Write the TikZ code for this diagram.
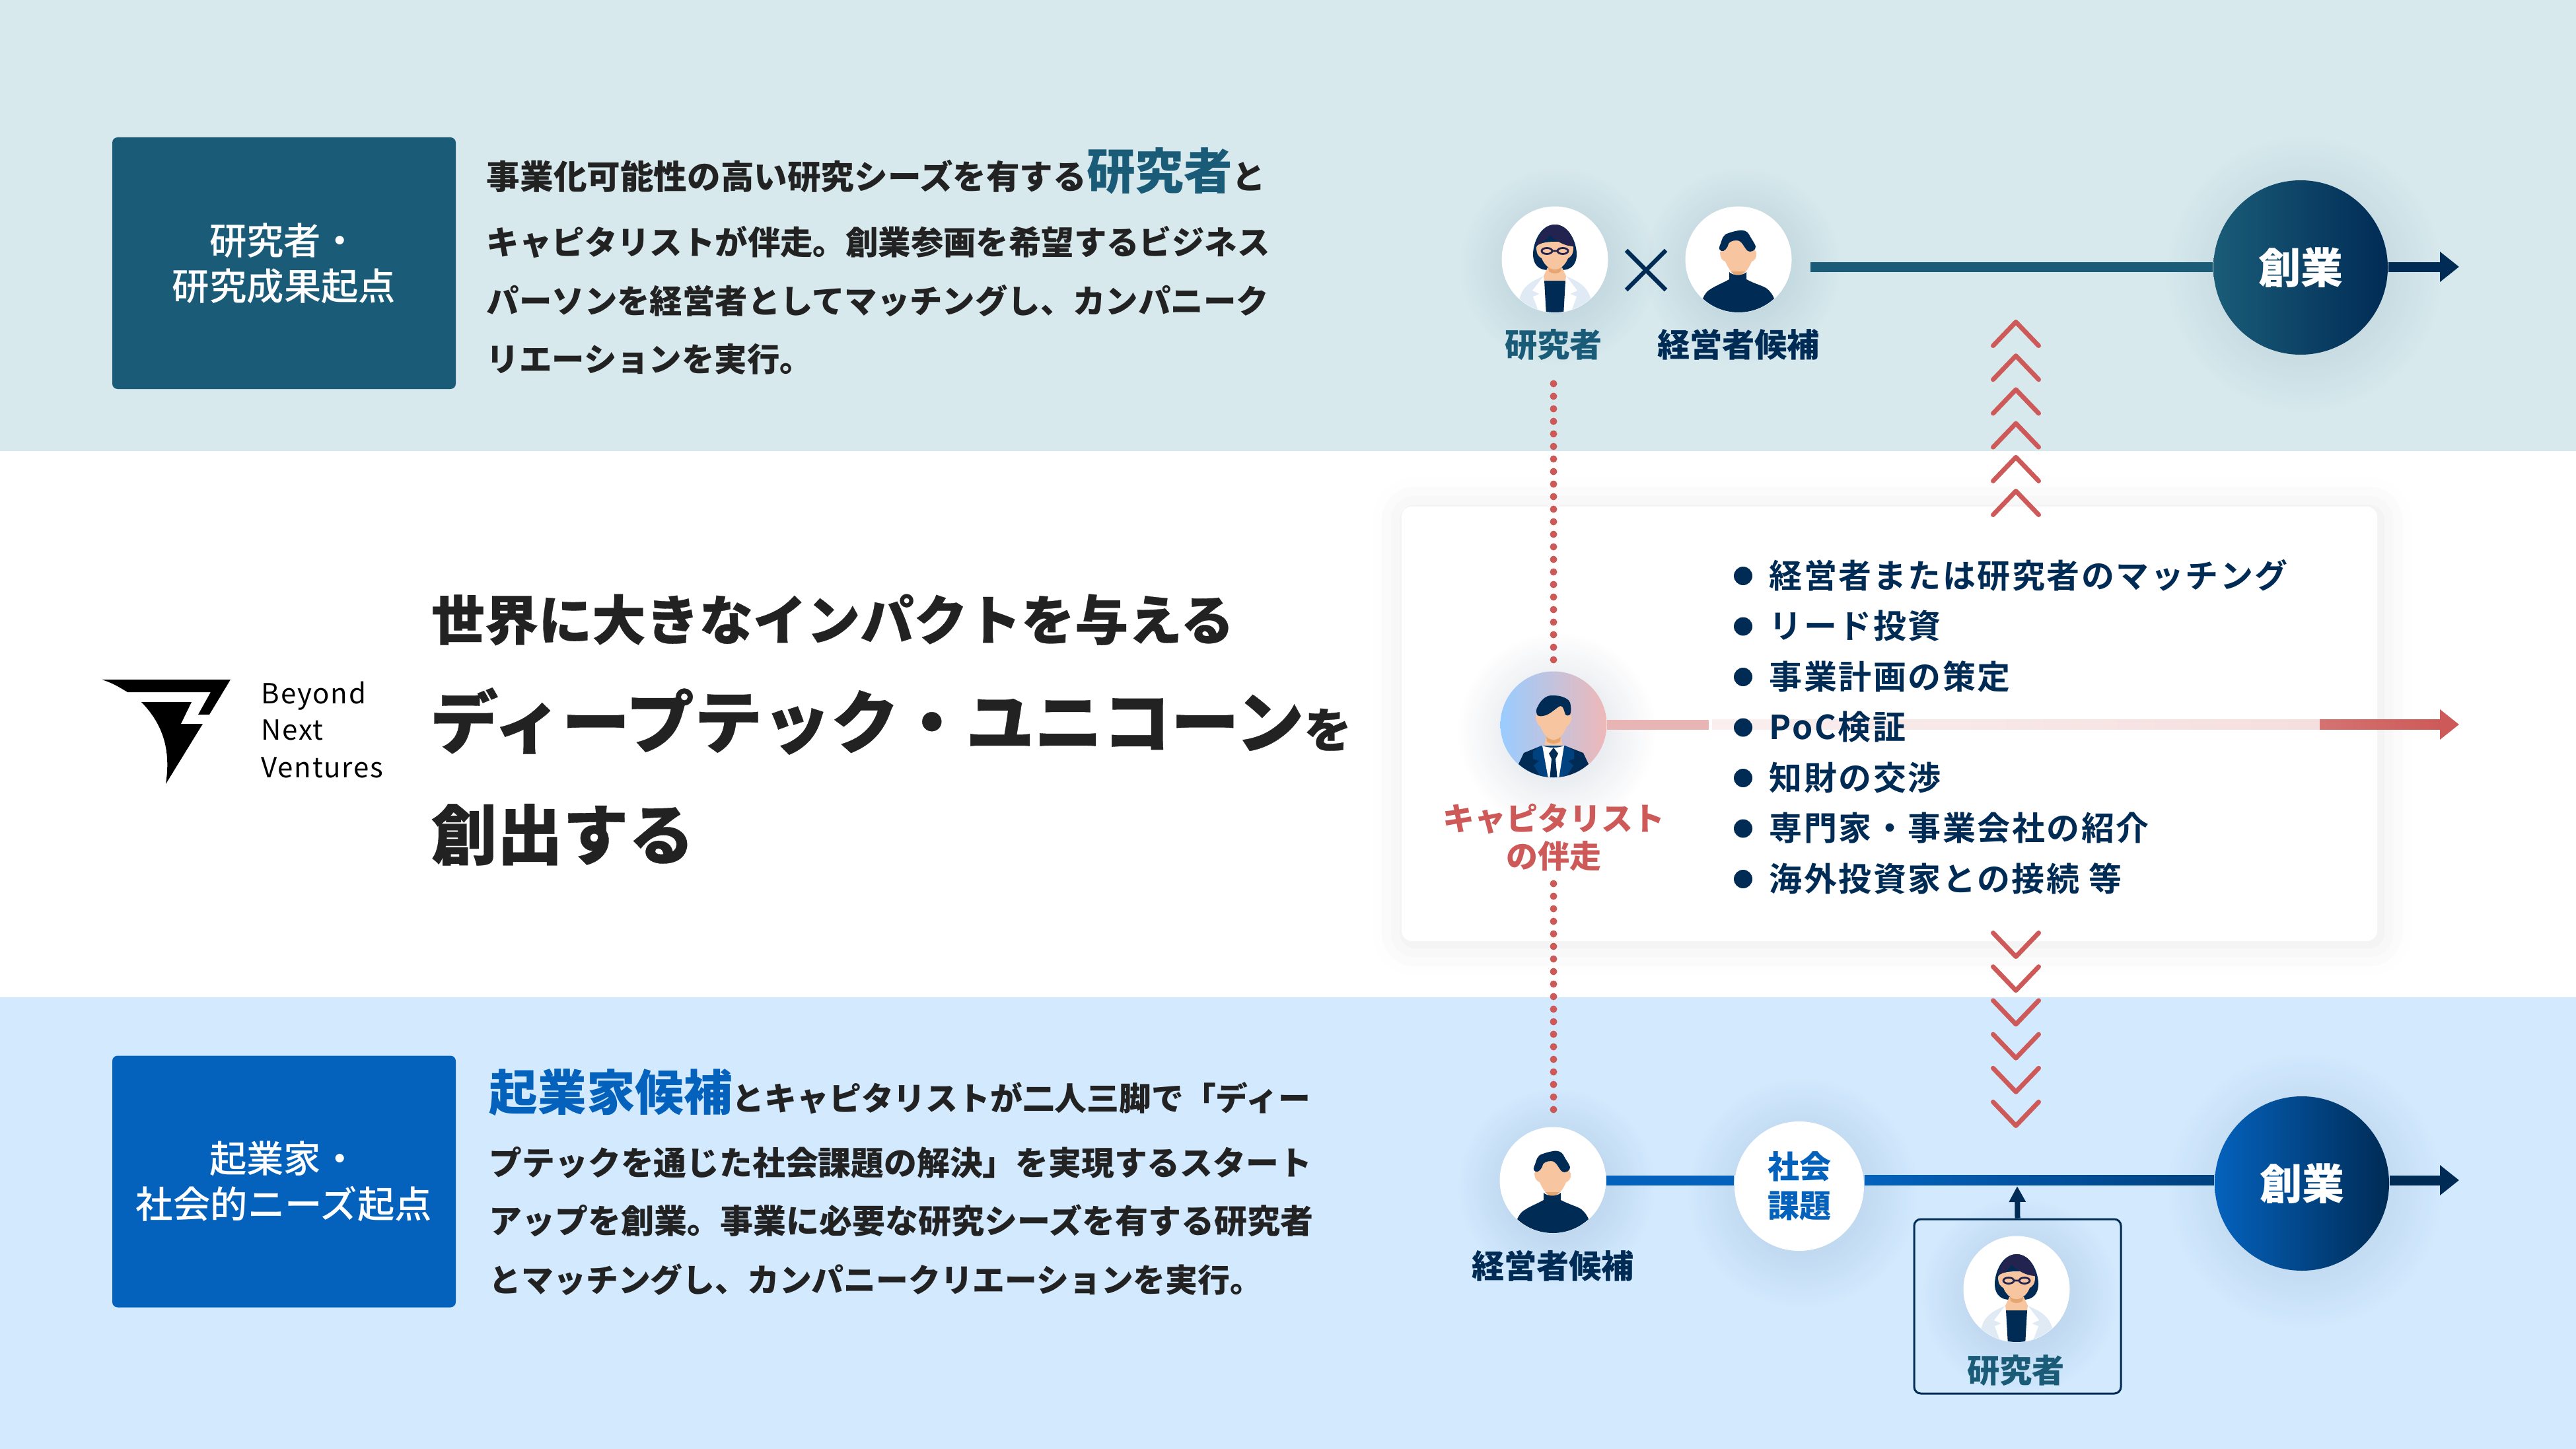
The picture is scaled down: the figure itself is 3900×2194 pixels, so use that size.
\documentclass[tikz,border=0pt]{standalone}
\usepackage{fontspec}
\usepackage{xcolor}
\usetikzlibrary{arrows.meta,calc,fadings,shadows.blur}

\setmainfont{Noto Sans CJK JP}
\newfontfamily\blackfont{Noto Sans CJK JP Black}
\newfontfamily\heavyfont[FakeBold=0.35]{Noto Sans CJK JP Black}
\newfontfamily\medfont{Noto Sans CJK JP Medium}
\newfontfamily\listfont[LetterSpace=5]{Noto Sans CJK JP Bold}
\newfontfamily\logofont[LetterSpace=4]{Noto Sans CJK JP}

\definecolor{topband}{HTML}{D7E9ED}
\definecolor{lowband}{HTML}{D2E9FE}
\definecolor{tealclr}{HTML}{1A5C78}
\definecolor{blueclr}{HTML}{0462BD}
\definecolor{navyclr}{HTML}{002B55}
\definecolor{redclr}{HTML}{CD5A58}
\definecolor{inkclr}{HTML}{222222}
\definecolor{skinclr}{HTML}{F7C6A0}
\definecolor{neckclr}{HTML}{E5A672}
\definecolor{hairclr}{HTML}{23234F}
\definecolor{coatclr}{HTML}{E0EAF5}
\definecolor{suitclr}{HTML}{00417F}
\definecolor{capleft}{HTML}{99CCFF}
\definecolor{capright}{HTML}{EFB8B8}

\tikzfading[name=softfade, inner color=transparent!0, outer color=transparent!100]
\newcommand{\softglow}[2]{\fill[navyclr, opacity=.16, path fading=softfade] ($(#1)+(5,10)$) circle (#2);}
\newcommand{\bodysz}[1]{\bfseries\fontsize{#1}{15}\selectfont}

\tikzset{
    researcher/.pic={
        \begin{scope}
            \clip (0,0) circle (80);
            \fill[navyclr] (0,-53) .. controls (-22,-53) and (-33,-25) .. (-33,-8) .. controls (-33,8) and (-24,16) .. (-10,16) -- (10,16) .. controls (24,16) and (33,8) .. (33,-8) .. controls (33,-25) and (22,-53) .. (0,-53) -- cycle;
            \fill[coatclr] (-54,62) .. controls (-50,40) and (-35,33) .. (-17,25) -- (17,25) .. controls (35,33) and (50,40) .. (55,62) -- (55,85) -- (-55,85) -- cycle;
            \fill[white] (-17,25) -- (-34,47) -- (-23,52) -- (-33,56) -- (-26,75) -- (-13,85) -- (13,85) -- (26,75) -- (33,56) -- (23,52) -- (34,47) -- (17,25) -- cycle;
            \fill[navyclr] (-16,32) -- (16,32) -- (13,85) -- (-13,85) -- cycle;
            \fill[skinclr] (-11,12) -- (11,12) -- (17,25) -- (16,32) -- (-16,32) -- (-17,25) -- cycle;
            \fill[neckclr] (-10,12) -- (10,12) -- (9,18) .. controls (4,22) and (-4,22) .. (-9,18) -- cycle;
            \fill[skinclr] (-28,-18) .. controls (-28,-8) and (-24,-4) .. (-20,-2) .. controls (-15,10) and (-7,15) .. (0,15) .. controls (7,15) and (15,10) .. (20,-2) .. controls (24,-4) and (28,-8) .. (28,-18) .. controls (28,-30) and (-28,-30) .. (-28,-18) -- cycle;
            \fill[hairclr] (-28,-22) .. controls (-24,-40) and (-14,-53) .. (0,-53) .. controls (16,-53) and (27,-38) .. (29,-20) .. controls (15,-20) and (2,-28) .. (-8,-37) .. controls (-12,-30) and (-18,-24) .. (-28,-22) -- cycle;
            \draw[hairclr, line width=0.7pt] (-12,-13) ellipse (8 and 4.5) (12,-13) ellipse (8 and 4.5) (-4,-13) -- (4,-13);
        \end{scope}
    },
    candidate/.pic={
        \begin{scope}
            \clip (0,0) circle (80);
            \fill[skinclr] (-28,-10) .. controls (-28,-3) and (-24,2) .. (-20,3) .. controls (-16,12) and (-12,18) .. (-9,20) -- (0,23) -- (9,20) .. controls (12,18) and (16,12) .. (20,3) .. controls (24,2) and (28,-3) .. (27,-10) -- (16,-35) -- (-16,-35) -- cycle;
            \fill[neckclr] (-12,18) -- (10,18) -- (3,25) -- (-4,25) -- cycle;
            \fill[navyclr] (-14,19) .. controls (-8,25) and (6,25) .. (12,19) -- (12,30) .. controls (25,37) and (38,40) .. (43,44) .. controls (49,49) and (52,54) .. (54,59) -- (54,85) -- (-54,85) -- (-54,59) .. controls (-51,52) and (-47,47) .. (-41,44) .. controls (-35,40) and (-25,36) .. (-14,30) -- cycle;
            \fill[navyclr] (0,-44) .. controls (8,-46) and (14,-42) .. (16,-38) .. controls (20,-30) and (24,-26) .. (26,-20) .. controls (27,-14) and (18,-10) .. (14,-13) .. controls (8,-18) and (6,-29) .. (-3,-29) .. controls (-10,-29) and (-14,-26) .. (-15,-24) .. controls (-16,-18) and (-22,-11) .. (-26,-13) .. controls (-31,-15) and (-29,-20) .. (-27,-24) .. controls (-25,-30) and (-24,-38) .. (-15,-40) .. controls (-10,-42) and (-5,-43) .. (0,-44) -- cycle;
        \end{scope}
    },
    capitalist/.pic={
        \begin{scope}
            \clip (0,0) circle (80);
            \fill[skinclr] (-11,18) -- (11,18) -- (14,34) -- (-14,34) -- cycle;
            \fill[neckclr] (-11,18) -- (11,18) -- (10,26) .. controls (4,30) and (-4,30) .. (-10,26) -- cycle;
            \fill[skinclr] (-27,-14) .. controls (-27,-5) and (-24,1) .. (-20,3) .. controls (-16,13) and (-10,23) .. (0,23) .. controls (10,23) and (16,13) .. (20,3) .. controls (24,1) and (28,-5) .. (27,-14) -- (15,-35) -- (-15,-35) -- cycle;
            \fill[navyclr] (-53,60) -- (-45,43) -- (-18,32) -- (17,32) -- (45,43) -- (53,60) -- (55,85) -- (-55,85) -- cycle;
            \fill[suitclr] (-18,32) -- (-31,40) -- (-31,52) -- (-22,55) -- (-30,62) -- (-20,78) -- (-6,85) -- (6,85) -- (20,78) -- (30,62) -- (22,55) -- (31,52) -- (31,40) -- (18,32) -- cycle;
            \fill[white] (-17,32) .. controls (-8,36) and (8,36) .. (16,32) -- (8,82) -- (-8,82) -- cycle;
            \fill[navyclr] (0,35) -- (-7,44) -- (-3,52) -- (-6,85) -- (6,85) -- (3,52) -- (7,44) -- cycle;
            \fill[navyclr] (-3,-44) .. controls (6,-44) and (10,-43) .. (13,-42) .. controls (22,-39) and (26,-35) .. (26,-28) .. controls (27,-22) and (26,-17) .. (25,-15) .. controls (22,-13) and (19,-13) .. (18,-15) .. controls (16,-20) and (15,-28) .. (11,-28) .. controls (6,-28) and (-5,-14) .. (-16,-13) .. controls (-20,-12) and (-24,-13) .. (-25,-15) .. controls (-27,-20) and (-26,-24) .. (-24,-27) .. controls (-20,-36) and (-12,-44) .. (-3,-44) -- cycle;
        \end{scope}
    }
}

\begin{document}
\begin{tikzpicture}[
        x=0.25pt, y=-0.25pt,
        srcbox/.style={minimum width=130pt,minimum height=95.25pt,rounded corners=2pt,inner sep=0pt,align=center,text=white,font=\medfont\fontsize{14.1}{17.25}\selectfont},
        bodyline/.style={anchor=base west,inner sep=0pt,text=inkclr},
        headline/.style={anchor=base west,inner sep=0pt,text=inkclr},
        logoline/.style={anchor=base west,inner sep=0pt,text=black,font=\logofont\fontsize{10.5}{12}\selectfont},
        avatar/.style={circle,fill=white,minimum size=40.25pt,inner sep=0pt},
        founder/.style={circle,minimum size=66pt,inner sep=0pt,text=white,font=\bfseries\fontsize{16}{18}\selectfont},
        wholabel/.style={inner sep=0pt,font=\blackfont\fontsize{12.3}{15}\selectfont},
        bulletdot/.style={circle,fill=navyclr,minimum size=7pt,inner sep=0pt},
        listtxt/.style={anchor=base west,inner sep=0pt,text=navyclr,font=\listfont\fontsize{12.5}{15}\selectfont},
        chev/.style={redclr,line width=1.75pt,line cap=round,line join=round},
        reddots/.style={redclr,line width=2.75pt,line cap=round,dash pattern=on 0pt off 4.75pt},
        bar/.style={line width=3.75pt},
        tipbar/.style={line width=3.75pt,-{Triangle[length=7.25pt,width=11pt]}}
    ]
    \useasboundingbox (0,0) rectangle (3900,2194);

    \fill[topband] (0,0) rectangle (3900,683);
    \fill[lowband] (0,1510) rectangle (3900,2194);

    % left column
    \node[srcbox,fill=tealclr] (srcTop) at (430,398.5) {研究者・\\研究成果起点};
    \node[srcbox,fill=blueclr] (srcLow) at (430,1789) {起業家・\\社会的ニーズ起点};

    \node[bodyline,font=\bodysz{12.65}] (txtA1) at (736,287) {事業化可能性の高い研究シーズを有する{\color{tealclr}\mdseries\blackfont\fontsize{18.4}{19}\selectfont 研究者}と};
    \node[bodyline,font=\bodysz{12.35}] (txtA2) at (736,385) {キャピタリストが伴走。創業参画を希望するビジネス};
    \node[bodyline,font=\bodysz{12.35}] (txtA3) at (736,474) {パーソンを経営者としてマッチングし、カンパニーク};
    \node[bodyline,font=\bodysz{12.35}] (txtA4) at (736,562) {リエーションを実行。};

    \node[bodyline,font=\bodysz{12.2}] (txtB1) at (740,1681) {{\color{blueclr}\mdseries\blackfont\fontsize{18.4}{19}\selectfont 起業家候補}とキャピタリストが二人三脚で「ディー};
    \node[bodyline,font=\bodysz{12.45}] (txtB2) at (740,1779) {プテックを通じた社会課題の解決」を実現するスタート};
    \node[bodyline,font=\bodysz{12.5}] (txtB3) at (740,1867) {アップを創業。事業に必要な研究シーズを有する研究者};
    \node[bodyline,font=\bodysz{12.2}] (txtB4) at (740,1956) {とマッチングし、カンパニークリエーションを実行。};

    % logo
    \fill[black] (154,1029) -- (349,1029) -- (317,1082) -- (300,1082) -- (319,1048) -- (193,1048) .. controls (180,1040) and (168,1033) .. (154,1029) -- cycle;
    \fill[black] (214,1063) -- (290,1063) -- (274,1096) -- (307,1096) -- (251,1187) .. controls (258,1140) and (250,1100) .. (214,1063) -- cycle;
    \node[logoline] (logoA) at (395,1065) {Beyond};
    \node[logoline] (logoB) at (395,1120) {Next};
    \node[logoline] (logoC) at (395,1177) {Ventures};

    \node[headline,font=\heavyfont\fontsize{20.3}{24}\selectfont] (headA) at (652,969) {世界に大きなインパクトを与える};
    \node[headline,font=\heavyfont\fontsize{25.85}{30}\selectfont] (headB) at (650,1132) {ディープテック・ユニコーン{\fontsize{18}{18}\selectfont を}};
    \node[headline,font=\heavyfont\fontsize{24.9}{30}\selectfont] (headC) at (652,1301) {創出する};

    % card
    \node[fill=white,rounded corners=4pt,minimum width=369.25pt,minimum height=164.5pt,inner sep=0pt,
        blur shadow={shadow xshift=1pt,shadow yshift=-1pt,shadow blur radius=12pt,shadow opacity=9}] (card) at (2860.5,1096) {};

    % positions
    \coordinate (posResA) at (2354,393);
    \coordinate (posCanA) at (2632,393);
    \coordinate (posCap) at (2352,1097);
    \coordinate (posCanB) at (2351,1787);
    \coordinate (posResB) at (3053,1952);
    \coordinate (posSoc) at (2724,1796);
    \coordinate (posFndA) at (3483,405);
    \coordinate (posFndB) at (3485,1792);
    \coordinate (endTop) at (3723,404);
    \coordinate (endLow) at (3723,1787);
    \coordinate (endCap) at (3723,1097);
    \coordinate (upTip) at (3054,1796);

    \foreach \gpos/\grad in {posResA/150,posCanA/150,posCap/150,posCanB/150,posResB/150,posSoc/175,posFndA/210,posFndB/210} {
        \softglow{\gpos}{\grad}
    }

    % connectors
    \node[founder,left color=tealclr,right color=navyclr] (fndA) at (posFndA) {創業};
    \node[founder,left color=blueclr,right color=navyclr] (fndB) at (posFndB) {創業};
    \node[avatar] (resA) at (posResA) {};
    \node[avatar] (canA) at (posCanA) {};
    \node[avatar,left color=capleft,right color=capright] (cap) at (posCap) {};
    \node[avatar] (canB) at (posCanB) {};
    \node[avatar] (resB) at (posResB) {};
    \node[circle,fill=white,minimum size=49pt,inner sep=0pt,align=center,text=blueclr,font=\bfseries\fontsize{12}{14.75}\selectfont] (soc) at (posSoc) {社会\\課題};

    \draw[bar,tealclr,shorten <=7pt] (canA.east |- endTop) -- (fndA.west |- endTop);
    \draw[tipbar,navyclr] (fndA.east |- endTop) -- (endTop);
    \draw[bar,blueclr] (canB.east) -- (soc.west |- canB);
    \shade[left color=blueclr,right color=suitclr] ($(soc.east |- canB)+(0,-7.5)$) rectangle ($(fndB.west |- canB)+(0,7.5)$);
    \draw[tipbar,navyclr] (fndB.east |- canB) -- (endLow);

    \draw[bar,redclr!45] (cap.east) -- (2587,1097);
    \shade[left color=redclr!10,right color=redclr!20] (2592,1089.5) rectangle (3512,1104.5);
    \shade[left color=redclr!85,right color=redclr] (3512,1089.5) rectangle (3696,1104.5);
    \draw[tipbar,redclr] (3690,1097) -- (endCap);

    \draw[reddots] (2352,581) -- (cap.north);
    \draw[reddots] (2352,1338) -- (2352,1684);
    \draw[navyclr,line width=1.6pt] (2462,379) -- (2522,439) (2522,379) -- (2462,439);

    \pic at (resA) {researcher};
    \pic at (canA) {candidate};
    \pic at (cap) {capitalist};
    \pic at (canB) {candidate};
    \pic at (resB) {researcher};

    \node[wholabel,text=tealclr] (lblResA) at (2352,522) {研究者};
    \node[wholabel,text=navyclr] (lblCanA) at (2632,522) {経営者候補};
    \node[wholabel,text=navyclr] (lblCanB) at (2351,1917) {経営者候補};
    \node[inner sep=0pt,align=center,text=redclr,font=\bfseries\fontsize{12}{14.25}\selectfont] (lblCap) at (2352,1268) {キャピタリスト\\の伴走};

    % bordered researcher
    \node[draw=navyclr,line width=0.75pt,rounded corners=2.5pt,minimum width=78.25pt,minimum height=66pt,inner sep=0pt] (resBox) at (3054.5,1978) {};
    \node[wholabel,text=tealclr] (lblResB) at (3052,2075) {研究者};
    \draw[navyclr,line width=2pt,-{Triangle[length=6pt,width=6pt]}] (resBox.north) -- (upTip);

    % service list
    \foreach \itm [count=\ii] in {経営者または研究者のマッチング,リード投資,事業計画の策定,PoC検証,知財の交渉,専門家・事業会社の紹介,海外投資家との接続 等} {
        \node[bulletdot] (dot\ii) at (2639,{872+(\ii-1)*76.5}) {};
        \node[listtxt] (item\ii) at ($(dot\ii)+(39,18)$) {\itm};
    }

    % chevrons
    \foreach \k in {0,...,5} {
        \draw[chev] (3017.5,{484+\k*51.2+39.5}) -- (3052,{484+\k*51.2+3.5}) -- (3086.5,{484+\k*51.2+39.5});
        \draw[chev] (3017.5,{1452+\k*51.2-39.5}) -- (3052,{1452+\k*51.2-3.5}) -- (3086.5,{1452+\k*51.2-39.5});
    }
\end{tikzpicture}
\end{document}
